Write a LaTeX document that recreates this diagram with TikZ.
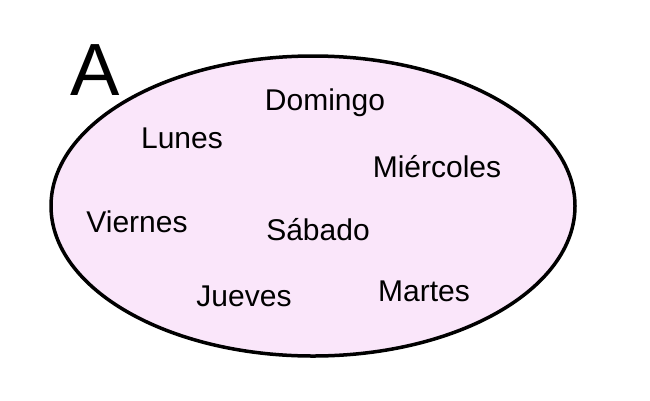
\documentclass[tikz,border=0pt]{standalone}
\usepackage{fontspec}
\setmainfont{Liberation Sans}
\usetikzlibrary{shapes.geometric}
\begin{document}
\begin{tikzpicture}[x=1pt,y=-1pt,
  word/.style={font=\fontsize{30}{32}\selectfont, inner sep=0pt}]
\useasboundingbox (0,0) rectangle (650,400);
\definecolor{setfill}{HTML}{FAE6FA}
\node[draw=black, line width=3.5pt, fill=setfill, ellipse, minimum width=524pt, minimum height=300pt, inner sep=0pt] (set) at (313,206) {};
\node[font=\fontsize{74}{76}\selectfont, inner sep=0pt] (lab) at (95,70) {A};
\node[word] (dom) at (325,103) {Domingo};
\node[word] (lun) at (182,138) {Lunes};
\node[word] (mie) at (437,167) {Miércoles};
\node[word] (vie) at (137,222) {Viernes};
\node[word] (sab) at (318,230) {Sábado};
\node[word] (jue) at (244,296) {Jueves};
\node[word] (mar) at (424,291) {Martes};
\end{tikzpicture}
\end{document}
